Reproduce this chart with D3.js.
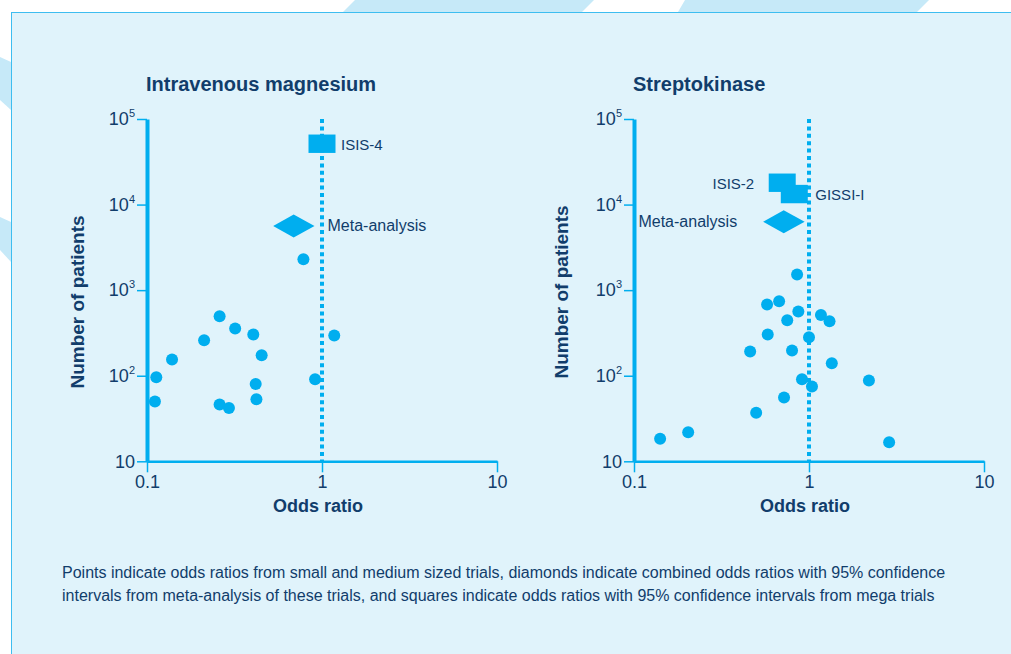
<!DOCTYPE html>
<html>
<head>
<meta charset="utf-8">
<script src="https://cdn.jsdelivr.net/npm/d3@7"></script>
<style>
  body { margin: 0; background: #fff; }
  text { font-family: "Liberation Sans", Arial, sans-serif; fill: #113d6b; }
</style>
</head>
<body>
<script>
// odds ratio / number of patients
const magOdds = [0.113, 0.111, 0.139, 0.212, 0.260, 0.319, 0.405, 0.452, 0.418, 0.422, 0.260, 0.294, 0.783, 0.913, 1.175];
const magPatients = [96, 50, 155, 259, 494, 357, 304, 173, 80, 53, 46, 42, 2296, 91, 296];
const magMeta = { or: 0.689, lo: 0.526, hi: 0.906, n: 5610 };
const magMega = [{ name: 'ISIS-4', or: 1.0, n: 51400 }];

const skOdds = [0.141, 0.204, 0.499, 0.720, 0.461, 0.581, 0.576, 0.675, 0.751, 0.869, 0.855, 0.800, 1.0, 1.17, 1.31, 1.35, 0.912, 1.04, 2.20, 2.87];
const skPatients = [18.4, 21.8, 37, 55.6, 192, 303, 679, 743, 446, 563, 1525, 197, 282, 511, 434, 140, 91, 74.7, 87.8, 16.7];
const skMeta = { or: 0.717, lo: 0.547, hi: 0.944, n: 6290 };
const skMega = [{ name: 'ISIS-2', or: 0.703, n: 18000 }, { name: 'GISSI-I', or: 0.824, n: 13270 }];

const xTicks = [0.1, 1, 10];
const yTicks = [10, 100, 1000, 10000, 100000];
const titles = ['Intravenous magnesium', 'Streptokinase'];
const caption = [
  'Points indicate odds ratios from small and medium sized trials, diamonds indicate combined odds ratios with 95% confidence',
  'intervals from meta-analysis of these trials, and squares indicate odds ratios with 95% confidence intervals from mega trials'
];

const cyan = '#00aeef';
const navy = '#113d6b';

const svg = d3.select('body').append('svg')
  .attr('width', 1011)
  .attr('height', 654);

// decorative stripes behind the panel
const stripes = [
  [[355, 0], [594, 0], [582, 12], [343, 12]],
  [[685, 0], [929, 0], [917, 12], [678, 12]],
  [[0, 57], [11, 62], [11, 110], [0, 100]],
  [[0, 217], [11, 222], [11, 262], [0, 250]]
];
svg.selectAll('.stripe').data(stripes).enter().append('polygon')
  .attr('class', 'stripe')
  .attr('points', d => d.map(p => p.join(',')).join(' '))
  .attr('fill', '#c6e9f8');

svg.append('rect')
  .attr('x', 11.5).attr('y', 12.5)
  .attr('width', 1100).attr('height', 700)
  .attr('fill', '#e0f3fb')
  .attr('stroke', '#3dbdf0')
  .attr('stroke-width', 1);

let panels = [
  { title: titles[0], left: 147, odds: magOdds, patients: magPatients, meta: magMeta, mega: magMega,
    megaDx: [19], metaDx: 13, metaAnchor: 'start', titleX: 146, yLabelX: 84, yLabelY: 302, xLabelX: 318 },
  { title: titles[1], left: 634, odds: skOdds, patients: skPatients, meta: skMeta, mega: skMega,
    megaDx: [-28, 21], metaDx: -26, metaAnchor: 'end', titleX: 633, yLabelX: 568, yLabelY: 292, xLabelX: 805 }
];

function drawPanel(p) {
  let x = d3.scaleLog().domain([0.1, 10]).range([p.left, p.left + 350]);
  let y = d3.scaleLog().domain([10, 1e5]).range([461.3, 119]);
  let g = svg.append('g');

  g.append('text')
    .attr('x', p.titleX).attr('y', 91)
    .attr('font-size', 20).attr('font-weight', 'bold')
    .text(p.title);

  // reference line at odds ratio 1
  g.append('line')
    .attr('x1', x(1)).attr('x2', x(1))
    .attr('y1', y(1e5)).attr('y2', y(10))
    .attr('stroke', cyan).attr('stroke-width', 4)
    .attr('stroke-dasharray', '4,3.4');

  let xAxis = g.append('g')
    .attr('transform', `translate(0,${y(10)})`)
    .call(d3.axisBottom(x).tickValues(xTicks).tickSize(11).tickSizeOuter(0).tickPadding(3)
      .tickFormat(d => d3.format('~g')(d)));
  xAxis.select('.domain').attr('stroke', cyan).attr('stroke-width', 2.5);
  xAxis.selectAll('.tick line').attr('stroke', cyan).attr('stroke-width', 1.5);
  xAxis.selectAll('.tick text').attr('font-size', 18).attr('fill', navy)
    .attr('font-family', '"Liberation Sans", Arial, sans-serif');

  let yAxis = g.append('g')
    .attr('transform', `translate(${x(0.1)},0)`)
    .call(d3.axisLeft(y).tickValues(yTicks).tickSize(10).tickSizeOuter(0).tickPadding(2).tickFormat(''));
  yAxis.select('.domain').attr('stroke', cyan).attr('stroke-width', 4);
  yAxis.selectAll('.tick line').attr('stroke', cyan).attr('stroke-width', 1.5);
  yAxis.selectAll('.tick text').each(function (d) {
    let t = d3.select(this)
      .attr('font-size', 18).attr('fill', navy)
      .attr('font-family', '"Liberation Sans", Arial, sans-serif');
    let e = Math.round(Math.log10(d));
    t.append('tspan').text('10');
    if (e > 1) {
      t.append('tspan').attr('font-size', 11).attr('dy', -8).text(e);
    }
  });

  // small and medium trials
  let pts = p.odds.map((o, i) => ({ or: o, n: p.patients[i] }));
  g.selectAll('.pt').data(pts).enter().append('circle')
    .attr('class', 'pt')
    .attr('cx', d => x(d.or))
    .attr('cy', d => y(d.n))
    .attr('r', 6)
    .attr('fill', cyan);

  // meta-analysis diamond
  let m = p.meta;
  let cy = y(m.n);
  g.append('path')
    .attr('d', `M${x(m.lo)},${cy} L${x(m.or)},${cy - 11.5} L${x(m.hi)},${cy} L${x(m.or)},${cy + 11.5} Z`)
    .attr('fill', cyan);
  g.append('text')
    .attr('x', (p.metaAnchor === 'start' ? x(m.hi) : x(m.lo)) + p.metaDx)
    .attr('y', cy + 5)
    .attr('text-anchor', p.metaAnchor)
    .attr('font-size', 16)
    .text('Meta-analysis');

  // mega trials
  g.selectAll('.mega').data(p.mega).enter().append('rect')
    .attr('class', 'mega')
    .attr('x', d => x(d.or) - 13.5)
    .attr('y', d => y(d.n) - 9.2)
    .attr('width', 27)
    .attr('height', 18.4)
    .attr('fill', cyan);
  g.selectAll('.megaLabel').data(p.mega).enter().append('text')
    .attr('class', 'megaLabel')
    .attr('x', (d, i) => x(d.or) + p.megaDx[i])
    .attr('y', d => y(d.n) + 6)
    .attr('text-anchor', (d, i) => p.megaDx[i] < 0 ? 'end' : 'start')
    .attr('font-size', 15)
    .text(d => d.name);

  g.append('text')
    .attr('x', p.xLabelX).attr('y', 512)
    .attr('text-anchor', 'middle')
    .attr('font-size', 18).attr('font-weight', 'bold')
    .text('Odds ratio');

  g.append('text')
    .attr('transform', `translate(${p.yLabelX},${p.yLabelY}) rotate(-90)`)
    .attr('text-anchor', 'middle')
    .attr('font-size', 19).attr('font-weight', 'bold')
    .text('Number of patients');
}

panels.forEach(drawPanel);

svg.selectAll('.caption').data(caption).enter().append('text')
  .attr('class', 'caption')
  .attr('x', 62)
  .attr('y', (d, i) => 578 + i * 23)
  .attr('font-size', 16)
  .text(d => d);
</script>
</body>
</html>
